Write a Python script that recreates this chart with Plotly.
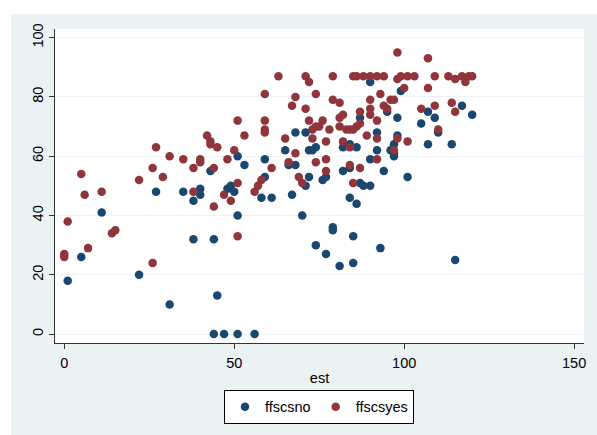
import plotly.graph_objects as go

# ffscsno (blue)
no_x = [1, 5, 11, 22, 27, 31, 35, 38, 38, 40, 40, 43, 44, 45, 44, 47, 51, 56, 48, 49, 50, 51, 51, 53, 58, 59, 59, 61,
        65, 66, 67, 68, 68, 70, 71, 71, 72, 73, 74, 72, 74, 76, 77, 77, 79, 79, 81, 82, 82, 84, 84, 84, 85, 85, 86, 86,
        87, 87, 88, 90, 90, 90, 92, 92, 93, 94, 95, 96, 97, 97, 97, 98, 98, 99, 101, 105, 107, 107, 109, 110, 114, 115,
        117, 120]
no_y = [18, 26, 41, 20, 48, 10, 48, 45, 32, 49, 47, 55, 32, 13, 0, 0, 0, 0, 49, 50, 48, 60, 40, 57, 46, 59, 53, 46,
        62, 57, 47, 57, 68, 40, 68, 50, 62, 62, 63, 53, 30, 52, 53, 27, 36, 35, 23, 63, 55, 64, 56, 46, 33, 24, 63, 44,
        73, 51, 50, 85, 59, 50, 68, 62, 29, 55, 75, 62, 64, 61, 60, 73, 67, 82, 53, 71, 75, 64, 73, 68, 64, 25,
        77, 74]

# ffscsyes (red)
yes_x = [0, 0, 1, 5, 6, 7, 11, 14, 15, 22, 26, 26, 27, 29, 31, 35, 38, 38, 40, 40, 42, 43, 43, 44, 44, 45, 47, 48,
         49, 50, 51, 51, 51, 53, 56, 57, 58, 59, 59, 59, 59, 61, 63, 65, 66, 67, 68, 68, 69, 70, 71, 71, 72, 72, 73,
         73, 74, 74, 74, 75, 76, 77, 77, 77, 78, 79, 79, 81, 81, 82, 81, 82, 83, 84, 84, 84, 85, 85, 85, 86, 86, 87,
         87, 87, 88, 89, 90, 90, 90, 90, 92, 92, 92, 92, 93, 94, 94, 95, 96, 97, 97, 98, 98, 98, 99, 100, 101, 101,
         103, 105, 107, 107, 109, 109, 110, 113, 114, 115, 115, 117, 118, 119, 120]
yes_y = [27, 26, 38, 54, 47, 29, 48, 34, 35, 52, 56, 24, 63, 53, 60, 59, 56, 48, 59, 58, 67, 65, 64, 56, 43, 63, 47, 59,
         45, 62, 72, 51, 33, 67, 48, 50, 52, 81, 72, 69, 68, 56, 87, 66, 58, 77, 80, 61, 53, 51, 87, 76, 85, 72, 69,
         66, 81, 70, 58, 70, 72, 65, 59, 55, 69, 87, 79, 78, 73, 74, 70, 65, 69, 69, 63, 57, 69, 87, 51, 87, 70, 71,
         75, 56, 87, 67, 87, 79, 76, 74, 87, 72, 66, 59, 81, 87, 77, 76, 79, 79, 62, 95, 86, 66, 87, 83, 87, 65,
         87, 76, 93, 83, 87, 77, 69, 87, 78, 86, 75, 87, 85, 87, 87]

x_ticks = [0, 50, 100, 150]
y_ticks = [0, 20, 40, 60, 80, 100]

BLUE = "#1a476f"
RED = "#90353b"
BG = "#eaf2f3"
FONT = "Liberation Sans, Arial, sans-serif"

W, H = 597, 435
L, R, T, B = 55, 586, 29, 345.7

fig = go.Figure()
fig.add_trace(go.Scatter(x=no_x, y=no_y, mode="markers", name="ffscsno",
                         marker=dict(color=BLUE, size=8.5, line=dict(width=0))))
fig.add_trace(go.Scatter(x=yes_x, y=yes_y, mode="markers", name="ffscsyes",
                         marker=dict(color=RED, size=8.5, line=dict(width=0))))

pw, ph = R - L, B - T
def px_x(p):
    return (p - L) / pw
def px_y(p):
    return (B - p) / ph

# white outer strips (left and top) of the graph region
fig.add_shape(type="rect", xref="paper", yref="paper",
              x0=px_x(-5), x1=px_x(11), y0=px_y(H + 5), y1=px_y(-5),
              fillcolor="white", line=dict(width=0), layer="above")
fig.add_shape(type="rect", xref="paper", yref="paper",
              x0=px_x(-5), x1=px_x(W + 5), y0=px_y(14), y1=px_y(-5),
              fillcolor="white", line=dict(width=0), layer="above")

fig.update_layout(
    width=W, height=H,
    margin=dict(l=L, r=W - R, t=T, b=H - B),
    paper_bgcolor=BG, plot_bgcolor="white",
    font=dict(family=FONT, size=14.5, color="#000000"),
    showlegend=True,
    legend=dict(orientation="h", x=px_x(320), xanchor="center", y=px_y(393), yanchor="top",
                bgcolor="white", bordercolor="#000000", borderwidth=1,
                font=dict(size=14.5), itemwidth=30, traceorder="normal"),
    xaxis=dict(range=[-2.73, 152.9], tickvals=x_ticks, ticktext=[str(v) for v in x_ticks],
               showgrid=False, zeroline=False, showline=True, linecolor="#333333", linewidth=1,
               ticks="outside", ticklen=5, tickcolor="#333333", ticklabelstandoff=2,
               title=dict(text="est", standoff=2, font=dict(size=14.5))),
    yaxis=dict(range=[-3.0, 102.9], tickvals=y_ticks, ticktext=[str(v) for v in y_ticks],
               showgrid=True, gridcolor=BG, gridwidth=1, zeroline=False,
               showline=True, linecolor="#333333", linewidth=1,
               ticks="outside", ticklen=5, tickcolor="#333333", tickangle=-90),
)

fig.write_html("out.html", config={"displayModeBar": False},
               post_script="document.body.style.margin='0';document.body.style.overflow='hidden';")
